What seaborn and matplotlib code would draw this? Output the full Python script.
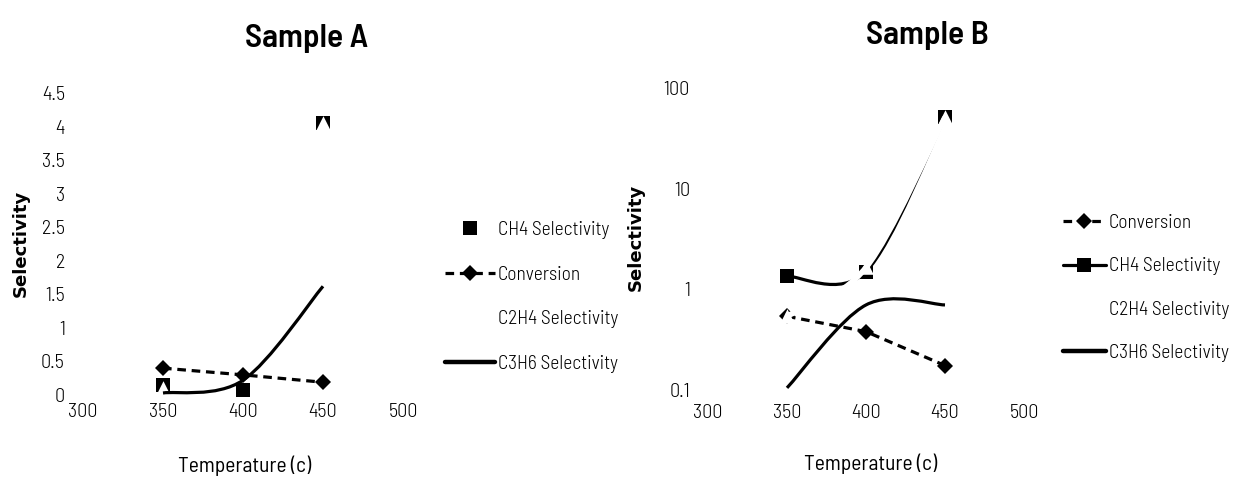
import numpy as np
import matplotlib
matplotlib.use("Agg")
import matplotlib.pyplot as plt
from matplotlib.path import Path
from matplotlib.patches import PathPatch
from matplotlib.lines import Line2D
import seaborn as sns

# ---------------- data ----------------
temps = [350, 400, 450]
x_ticks = [300, 350, 400, 450, 500]

a_conversion = [0.40, 0.30, 0.19]
a_ch4 = [0.15, 0.08, 4.05]
a_c2h4 = [0.10, np.nan, 4.05]
a_c3h6 = [0.03, 0.22, 1.62]
a_yticks = [0, 0.5, 1, 1.5, 2, 2.5, 3, 3.5, 4, 4.5]
a_ytick_labels = ["0", "0.5", "1", "1.5", "2", "2.5", "3", "3.5", "4", "4.5"]

b_conversion = [0.54, 0.38, 0.175]
b_ch4 = [1.35, 1.5, 51]
b_c2h4 = [0.54, 1.65, 51]
b_c3h6 = [0.105, 0.70, 0.70]
b_yticks = [0.1, 1, 10, 100]
b_ytick_labels = ["0.1", "1", "10", "100"]

labels_a = ["CH4 Selectivity", "Conversion", "C2H4 Selectivity", "C3H6 Selectivity"]
labels_b = ["Conversion", "CH4 Selectivity", "C2H4 Selectivity", "C3H6 Selectivity"]

# ---------------- style ----------------
sns.set_style("white")
NARROW = ["Barlow Semi Condensed", "DejaVu Sans"]
plt.rcParams["font.family"] = NARROW
plt.rcParams["text.color"] = "black"
plt.rcParams["axes.labelcolor"] = "black"
plt.rcParams["xtick.color"] = "black"
plt.rcParams["ytick.color"] = "black"

W, H = 1237, 497
fig = plt.figure(figsize=(W / 100, H / 100), dpi=100)


def frac_box(x0, x1, ytop, ybot):
    return [x0 / W, 1 - ybot / H, (x1 - x0) / W, (ybot - ytop) / H]


def smooth_path(xs, ys, log=False):
    """Excel-like smoothed line (cubic Bezier through the points)."""
    ys = np.asarray(ys, float)
    pts = np.column_stack([np.asarray(xs, float), np.log10(ys) if log else ys])
    n = len(pts)
    verts = [pts[0]]
    codes = [Path.MOVETO]
    for i in range(n - 1):
        p_prev = pts[i - 1] if i > 0 else pts[i]
        p_next2 = pts[i + 2] if i + 2 < n else pts[i + 1]
        c1 = pts[i] + (pts[i + 1] - p_prev) / 6.0
        c2 = pts[i + 1] - (p_next2 - pts[i]) / 6.0
        verts += [c1, c2, pts[i + 1]]
        codes += [Path.CURVE4] * 3
    verts = np.array(verts)
    if log:
        verts[:, 1] = 10 ** verts[:, 1]
    return Path(verts, codes)


DASH = (0, (2.7, 1.8))
LW = 2.3
TICK_FS = 14.5
LEG_FS = 14
TICK_W = 300

axA = fig.add_axes(frac_box(83, 403, 93, 395))
axB = fig.add_axes(frac_box(708, 1024, 88, 390))

# ---------- Sample A ----------
sns.lineplot(x=temps, y=a_conversion, ax=axA, color="black", lw=LW,
             linestyle=DASH, marker="D", markersize=8, markeredgewidth=0,
             zorder=3, clip_on=False)
sns.scatterplot(x=temps, y=a_ch4, ax=axA, color="black", marker="s", s=110,
                linewidth=0, zorder=4, clip_on=False)
sns.scatterplot(x=temps, y=a_c2h4, ax=axA, color="white", marker="^", s=110,
                linewidth=0, zorder=5, clip_on=False)
axA.add_patch(PathPatch(smooth_path(temps, a_c3h6), fill=False, lw=LW,
                        edgecolor="black", zorder=6, clip_on=False))

axA.set_xlim(300, 500)
axA.set_ylim(0, 4.5)
axA.set_xticks(x_ticks)
axA.set_xticklabels([str(t) for t in x_ticks])
axA.set_yticks(a_yticks)
axA.set_yticklabels(a_ytick_labels)

# ---------- Sample B ----------
axB.set_yscale("log")
sns.lineplot(x=temps, y=b_conversion, ax=axB, color="black", lw=LW,
             linestyle=DASH, marker="D", markersize=8, markeredgewidth=0,
             zorder=3, clip_on=False)
axB.add_patch(PathPatch(smooth_path(temps, b_ch4, log=True), fill=False,
                        lw=LW, edgecolor="black", zorder=4, clip_on=False))
sns.scatterplot(x=temps, y=b_ch4, ax=axB, color="black", marker="s", s=110,
                linewidth=0, zorder=4, clip_on=False)
axB.add_patch(PathPatch(smooth_path(temps, b_c2h4, log=True), fill=False,
                        lw=4.0, edgecolor="white", zorder=5, clip_on=False))
sns.scatterplot(x=temps, y=b_c2h4, ax=axB, color="white", marker="^", s=110,
                linewidth=0, zorder=5, clip_on=False)
axB.add_patch(PathPatch(smooth_path(temps, b_c3h6, log=True), fill=False,
                        lw=LW, edgecolor="black", zorder=6, clip_on=False))

axB.set_xlim(300, 500)
axB.set_ylim(0.1, 100)
axB.set_xticks(x_ticks)
axB.set_xticklabels([str(t) for t in x_ticks])
axB.set_yticks(b_yticks)
axB.set_yticklabels(b_ytick_labels)
axB.minorticks_off()

# ---------- common axis styling ----------
for ax, xpad in ((axA, 6), (axB, 10)):
    for s in ax.spines.values():
        s.set_visible(False)
    ax.tick_params(axis="both", length=0, labelsize=TICK_FS, colors="black")
    ax.tick_params(axis="x", pad=xpad)
    ax.tick_params(axis="y", pad=13)
    for lab in ax.get_xticklabels() + ax.get_yticklabels():
        lab.set_fontweight(TICK_W)
    ax.grid(False)
    ax.set_facecolor("none")
    if ax.get_legend() is not None:
        ax.get_legend().remove()

axA.set_ylabel("Selectivity", family="DejaVu Sans", fontweight="bold", fontsize=13)
axA.yaxis.set_label_coords(-0.166, 0.503)
axA.set_xlabel("Temperature (c)", fontsize=15.5)
axA.xaxis.set_label_coords(0.506, -0.199)

axB.set_ylabel("Selectivity", family="DejaVu Sans", fontweight="bold", fontsize=13)
axB.yaxis.set_label_coords(-0.199, 0.507)
axB.set_xlabel("Temperature (c)", fontsize=15.5)
axB.xaxis.set_label_coords(0.513, -0.209)

# ---------- titles ----------
fig.text(307 / W, 1 - 47 / H, "Sample A", ha="center", va="baseline",
         fontsize=24, fontweight=600)
fig.text(927 / W, 1 - 44 / H, "Sample B", ha="center", va="baseline",
         fontsize=24, fontweight=600)

# ---------- legends ----------
h_conv = Line2D([], [], color="black", lw=LW, linestyle=DASH, marker="D",
                markersize=8, markeredgewidth=0)
h_ch4_marker = Line2D([], [], color="black", lw=0, marker="s", markersize=10,
                      markeredgewidth=0)
h_ch4_line = Line2D([], [], color="black", lw=LW, marker="s", markersize=10,
                    markeredgewidth=0)
h_c2h4 = Line2D([], [], color="white", lw=LW, marker="^", markersize=10,
                markeredgewidth=0)
h_c3h6 = Line2D([], [], color="black", lw=3.2)

legA = fig.legend([h_ch4_marker, h_conv, h_c2h4, h_c3h6], labels_a,
                  loc="center left", bbox_to_anchor=(445 / W, 1 - 297 / H),
                  frameon=False, fontsize=LEG_FS, handlelength=2.55,
                  handletextpad=0.15, labelspacing=1.37, borderpad=0,
                  borderaxespad=0)
legB = fig.legend([h_conv, h_ch4_line, h_c2h4, h_c3h6], labels_b,
                  loc="center left", bbox_to_anchor=(1063 / W, 1 - 288 / H),
                  frameon=False, fontsize=LEG_FS, handlelength=2.2,
                  handletextpad=0.15, labelspacing=1.3, borderpad=0,
                  borderaxespad=0)
for leg in (legA, legB):
    for t in leg.get_texts():
        t.set_fontweight(TICK_W)

fig.savefig("out.png", dpi=100, facecolor="white")
